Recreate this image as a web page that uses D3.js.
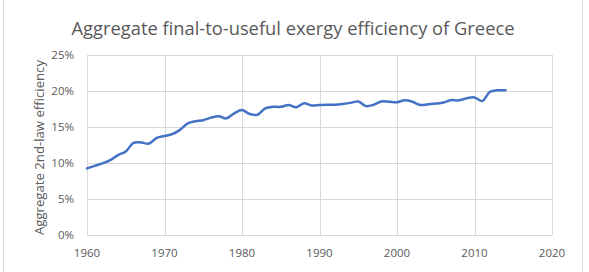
<!DOCTYPE html>
<html>
<head>
<meta charset="utf-8">
<script src="https://cdn.jsdelivr.net/npm/d3@7"></script>
<style>
  body { margin: 0; background: #fff; }
  text { font-family: "Open Sans", "Liberation Sans", sans-serif; fill: #595959; }
</style>
</head>
<body>
<script>
// data (aggregate 2nd-law efficiency, %)
const years = d3.range(1960, 2015);
const efficiency = [
  9.25, 9.6, 9.95, 10.4, 11.1, 11.6, 12.8, 12.85, 12.7, 13.5,
  13.75, 14.0, 14.6, 15.5, 15.8, 15.95, 16.3, 16.5, 16.2, 16.9,
  17.35, 16.8, 16.7, 17.6, 17.8, 17.8, 18.05, 17.75, 18.3, 18.0,
  18.05, 18.1, 18.1, 18.2, 18.35, 18.55, 17.9, 18.1, 18.55, 18.5,
  18.45, 18.7, 18.5, 18.05, 18.15, 18.25, 18.4, 18.75, 18.7, 19.0,
  19.1, 18.6, 19.9, 20.1, 20.1
];
const xTicks = [1960, 1970, 1980, 1990, 2000, 2010, 2020];
const yTicks = [0, 5, 10, 15, 20, 25];

const title = "Aggregate final-to-useful exergy efficiency of Greece";
const yTitle = "Aggregate 2nd-law efficiency";

const width = 589, height = 272;
const margin = { top: 55, right: 37, bottom: 37, left: 87 };

const svg = d3.select("body").append("svg")
  .attr("width", width)
  .attr("height", height);

// chart frame
svg.append("rect")
  .attr("x", 3.5).attr("y", -2)
  .attr("width", 579).attr("height", height + 4)
  .attr("fill", "none")
  .attr("stroke", "#d9d9d9");

const x = d3.scaleLinear().domain([1960, 2020]).range([margin.left, width - margin.right]);
const y = d3.scaleLinear().domain([0, 25]).range([height - margin.bottom, margin.top]);

// gridlines
svg.append("g").selectAll("line.h")
  .data(yTicks).join("line")
  .attr("x1", x(1960)).attr("x2", x(2020))
  .attr("y1", d => Math.round(y(d)) + 0.5).attr("y2", d => Math.round(y(d)) + 0.5)
  .attr("stroke", "#d9d9d9");

svg.append("g").selectAll("line.v")
  .data(xTicks).join("line")
  .attr("x1", d => Math.round(x(d)) + 0.5).attr("x2", d => Math.round(x(d)) + 0.5)
  .attr("y1", y(25)).attr("y2", y(0))
  .attr("stroke", "#d9d9d9");

// tick labels
svg.append("g").selectAll("text")
  .data(yTicks).join("text")
  .attr("x", x(1960) - 13)
  .attr("y", d => y(d) + 4)
  .attr("text-anchor", "end")
  .attr("font-size", 11.5)
  .text(d => d + "%");

svg.append("g").selectAll("text")
  .data(xTicks).join("text")
  .attr("x", d => x(d))
  .attr("y", y(0) + 22)
  .attr("text-anchor", "middle")
  .attr("font-size", 11.5)
  .text(d => d);

// line
const line = d3.line()
  .x((d, i) => x(years[i]))
  .y(d => y(d))
  .curve(d3.curveCatmullRom);

svg.append("path")
  .datum(efficiency)
  .attr("d", line)
  .attr("fill", "none")
  .attr("stroke", "#4472c4")
  .attr("stroke-width", 2.5)
  .attr("stroke-linejoin", "round")
  .attr("stroke-linecap", "round");

// titles
svg.append("text")
  .attr("x", 293).attr("y", 35)
  .attr("text-anchor", "middle")
  .attr("font-size", 18)
  .attr("textLength", 443)
  .attr("lengthAdjust", "spacingAndGlyphs")
  .text(title);

svg.append("text")
  .attr("transform", `translate(44, ${(y(0) + 60) / 2}) rotate(-90)`)
  .attr("text-anchor", "middle")
  .attr("font-size", 12.5)
  .attr("textLength", 175)
  .attr("lengthAdjust", "spacingAndGlyphs")
  .text(yTitle);
</script>
</body>
</html>
